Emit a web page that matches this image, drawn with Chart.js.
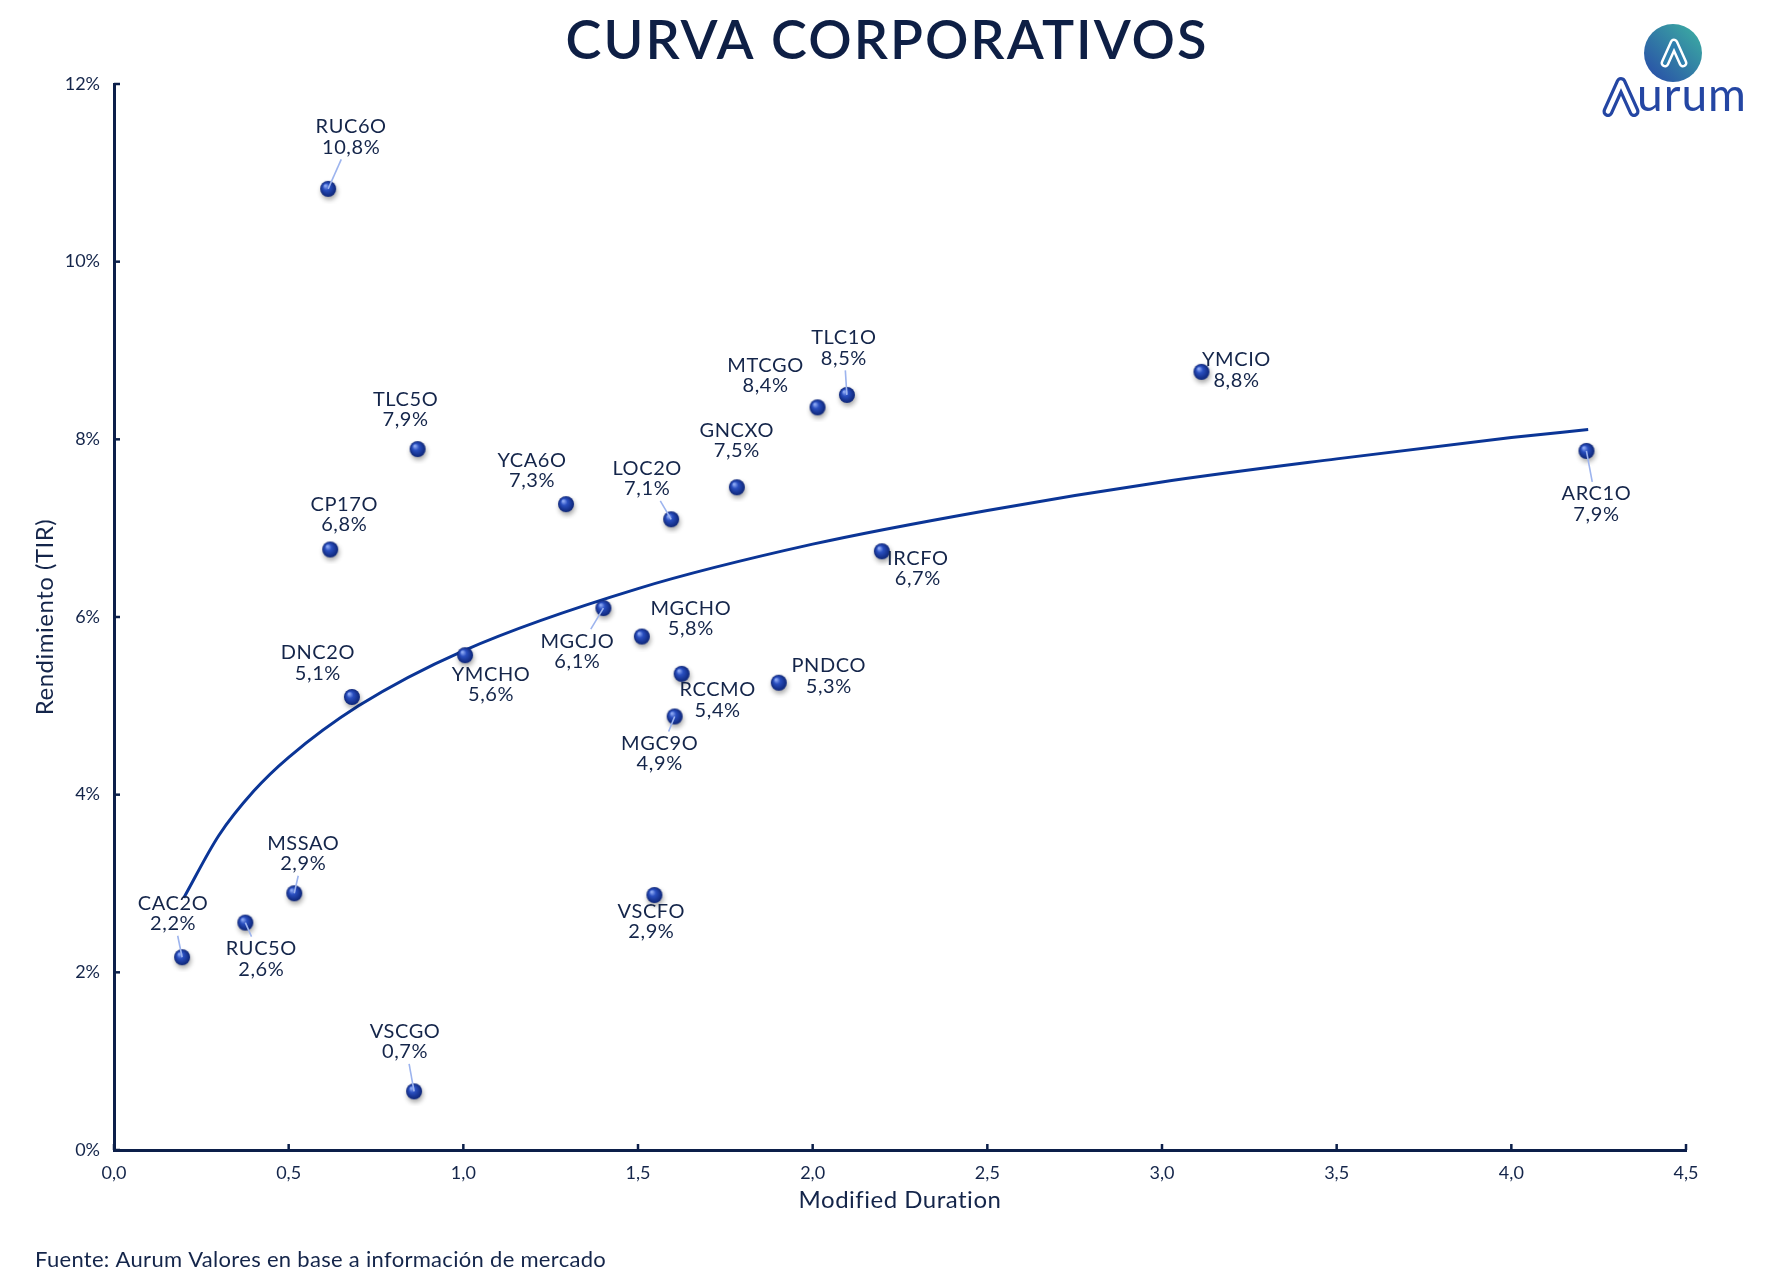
<!DOCTYPE html>
<html lang="es">
<head>
<meta charset="utf-8">
<title>Curva Corporativos</title>
<script src="https://cdn.jsdelivr.net/npm/chart.js@4.4.1/dist/chart.umd.min.js"></script>
<style>
  html, body { margin: 0; padding: 0; background: #ffffff; }
  #wrap { position: relative; width: 1775px; height: 1287px; }
</style>
</head>
<body>
<div id="wrap"><canvas id="curvaChart" width="1775" height="1287"></canvas></div>
<script>
// Datos de la curva
const tickers = ['RUC6O', 'TLC5O', 'CP17O', 'DNC2O', 'YMCHO', 'YCA6O', 'MGCJO', 'MGCHO',
                 'LOC2O', 'RCCMO', 'MGC9O', 'VSCFO', 'GNCXO', 'PNDCO', 'MTCGO', 'TLC1O',
                 'IRCFO', 'YMCIO', 'ARC1O', 'CAC2O', 'RUC5O', 'MSSAO', 'VSCGO'];
const duration = [0.613, 0.869, 0.619, 0.681, 1.005, 1.294, 1.401, 1.511,
                  1.595, 1.625, 1.605, 1.547, 1.783, 1.903, 2.014, 2.098,
                  2.198, 3.113, 4.215, 0.195, 0.376, 0.516, 0.859];
const tir = [10.82, 7.89, 6.76, 5.10, 5.57, 7.27, 6.10, 5.78,
             7.10, 5.36, 4.88, 2.87, 7.46, 5.26, 8.36, 8.50,
             6.74, 8.76, 7.87, 2.17, 2.56, 2.89, 0.66];

// Línea de tendencia
const trendX = [0.2, 0.3, 0.4, 0.5, 0.7, 1.0, 1.5, 2.0, 2.5, 3.0, 3.5, 4.0, 4.22];
const trendY = [2.84, 3.54, 4.04, 4.42, 5.00, 5.62, 6.32, 6.82, 7.20, 7.52, 7.78, 8.02, 8.11];

// Etiquetas de los ejes
const xTickLabels = ['0,0', '0,5', '1,0', '1,5', '2,0', '2,5', '3,0', '3,5', '4,0', '4,5'];
const yTickLabels = ['0%', '2%', '4%', '6%', '8%', '10%', '12%'];

const NAVY = '#14254a';
const AXIS = '#0c1f4a';
const FONT = 'Lato, "Noto Sans", sans-serif';

// Posición de cada etiqueta respecto de su punto: [dx, dy, con línea guía]
const labelLayout = [
  [23, -62, true], [-12, -50, false], [14, -45, false], [-34, -44, false],
  [26, 19, false], [-34, -44, false], [-26, 33, true], [49, -28, false],
  [-24, -51, true], [36, 16, false], [-15, 27, true], [-3, 16, false],
  [0, -57, false], [50, -17, false], [-52, -42, false], [-3, -57, true],
  [36, 7, false], [35, -12, false], [10, 43, true], [-9, -54, true],
  [16, 26, true], [9, -50, true], [-9, -60, true]
];

// Esfera con brillo para cada punto
function makeSphere(r) {
  const pad = 7;
  const size = (r + pad) * 2;
  const c = document.createElement('canvas');
  c.width = size; c.height = size;
  const g = c.getContext('2d');
  const cx = size / 2, cy = size / 2;
  g.shadowColor = 'rgba(0,0,0,0.35)';
  g.shadowBlur = 5;
  g.shadowOffsetX = 1;
  g.shadowOffsetY = 3;
  const grad = g.createRadialGradient(cx - r * 0.35, cy - r * 0.4, r * 0.1, cx, cy, r);
  grad.addColorStop(0, '#8aa6f2');
  grad.addColorStop(0.35, '#2a4fc0');
  grad.addColorStop(1, '#0d2577');
  g.fillStyle = grad;
  g.beginPath();
  g.arc(cx, cy, r, 0, Math.PI * 2);
  g.fill();
  return c;
}

function fmtPct(v) {
  return v.toFixed(1).replace('.', ',') + '%';
}

// Plugin: etiquetas, marcas internas de los ejes, títulos, fuente y logo
const decorPlugin = {
  id: 'decor',
  afterDatasetsDraw(chart) {
    const ctx = chart.ctx;
    const meta = chart.getDatasetMeta(0);
    ctx.save();
    ctx.font = '20px ' + FONT;
    ctx.letterSpacing = '0.6px';
    ctx.textAlign = 'center';
    ctx.textBaseline = 'middle';
    const gap = 20.5;
    meta.data.forEach((pt, i) => {
      const [dx, dy, leader] = labelLayout[i];
      const name = tickers[i];
      const val = fmtPct(tir[i]);
      const cx = pt.x + dx;
      const cy = pt.y + dy + gap / 2;
      if (leader) {
        const w = Math.max(ctx.measureText(name).width, ctx.measureText(val).width);
        const hw = w / 2 + 3, hh = gap / 2 + 12;
        const vx = pt.x - cx, vy = pt.y - cy;
        const s = Math.min(vx !== 0 ? hw / Math.abs(vx) : Infinity, vy !== 0 ? hh / Math.abs(vy) : Infinity);
        if (s < 1) {
          ctx.strokeStyle = '#9db4ee';
          ctx.lineWidth = 1.6;
          ctx.beginPath();
          ctx.moveTo(pt.x, pt.y);
          ctx.lineTo(cx + vx * s, cy + vy * s);
          ctx.stroke();
        }
      }
      ctx.fillStyle = NAVY;
      ctx.fillText(name, pt.x + dx, pt.y + dy);
      ctx.fillText(val, pt.x + dx, pt.y + dy + gap);
    });
    ctx.restore();
  },
  afterDraw(chart) {
    const ctx = chart.ctx;
    const area = chart.chartArea;
    const xs = chart.scales.x, ys = chart.scales.y;
    ctx.save();

    // marcas internas
    ctx.strokeStyle = AXIS;
    ctx.lineWidth = 2.5;
    ys.ticks.forEach(t => {
      const py = ys.getPixelForValue(t.value);
      ctx.beginPath(); ctx.moveTo(area.left, py); ctx.lineTo(area.left + 6, py); ctx.stroke();
    });
    xs.ticks.forEach(t => {
      const px = xs.getPixelForValue(t.value);
      ctx.beginPath(); ctx.moveTo(px, area.bottom); ctx.lineTo(px, area.bottom - 6); ctx.stroke();
    });

    // título
    ctx.fillStyle = '#0e1f45';
    ctx.textAlign = 'center';
    ctx.textBaseline = 'middle';
    ctx.font = '600 54px ' + FONT;
    ctx.letterSpacing = '2px';
    ctx.fillText('CURVA CORPORATIVOS', 887, 42);

    // títulos de ejes
    ctx.fillStyle = NAVY;
    ctx.font = '24px ' + FONT;
    ctx.letterSpacing = '0.5px';
    ctx.fillText('Modified Duration', (area.left + area.right) / 2, 1200);
    ctx.save();
    ctx.translate(45, (area.top + area.bottom) / 2);
    ctx.rotate(-Math.PI / 2);
    ctx.fillText('Rendimiento (TIR)', 0, 0);
    ctx.restore();

    // fuente
    ctx.textAlign = 'left';
    ctx.font = '22px ' + FONT;
    ctx.letterSpacing = '0.3px';
    ctx.fillText('Fuente: Aurum Valores en base a información de mercado', 35, 1260);
    ctx.letterSpacing = '0px';

    // logo
    const lx = 1673, ly = 53, lr = 29;
    const lg = ctx.createLinearGradient(lx - lr, ly + lr, lx + lr, ly - lr);
    lg.addColorStop(0, '#2747a8');
    lg.addColorStop(1, '#3db3a2');
    ctx.fillStyle = lg;
    ctx.beginPath(); ctx.arc(lx, ly, lr, 0, Math.PI * 2); ctx.fill();
    ctx.lineJoin = 'round'; ctx.lineCap = 'round';
    const caret = (ox, oy, k) => {
      ctx.beginPath();
      ctx.moveTo(ox - 9 * k, oy + 10 * k);
      ctx.lineTo(ox, oy - 10 * k);
      ctx.lineTo(ox + 9 * k, oy + 10 * k);
    };
    caret(lx + 1, ly, 1);
    ctx.strokeStyle = '#ffffff'; ctx.lineWidth = 9; ctx.stroke();
    caret(lx + 1, ly, 1);
    ctx.strokeStyle = '#2f7fae'; ctx.lineWidth = 4; ctx.stroke();

    caret(1621, 97, 1.45);
    ctx.strokeStyle = '#2446a3'; ctx.lineWidth = 11; ctx.stroke();
    caret(1621, 97, 1.45);
    ctx.strokeStyle = '#ffffff'; ctx.lineWidth = 4.5; ctx.stroke();
    ctx.fillStyle = '#2446a3';
    ctx.font = '46px ' + FONT;
    ctx.letterSpacing = '1px';
    ctx.textAlign = 'left';
    ctx.textBaseline = 'alphabetic';
    ctx.fillText('urum', 1637, 111);

    ctx.restore();
  }
};

const sphere = makeSphere(8);

new Chart(document.getElementById('curvaChart'), {
  type: 'scatter',
  data: {
    datasets: [
      {
        label: 'Bonos',
        data: duration.map((d, i) => ({ x: d, y: tir[i] })),
        pointStyle: sphere,
        pointRadius: 8,
        order: 0
      },
      {
        type: 'line',
        label: 'Tendencia',
        data: trendX.map((d, i) => ({ x: d, y: trendY[i] })),
        borderColor: '#0b3596',
        borderWidth: 3,
        pointRadius: 0,
        fill: false,
        tension: 0.4,
        cubicInterpolationMode: 'monotone',
        order: 1
      }
    ]
  },
  options: {
    responsive: false,
    animation: false,
    devicePixelRatio: 1,
    layout: { padding: { top: 84, right: 89, left: 0, bottom: 77 } },
    plugins: {
      legend: { display: false },
      tooltip: { enabled: false },
      title: { display: false }
    },
    scales: {
      x: {
        type: 'linear',
        min: 0,
        max: 4.5,
        afterFit: s => { s.height = 60; },
        grid: { display: false, drawTicks: false },
        border: { display: true, color: AXIS, width: 3 },
        ticks: {
          stepSize: 0.5,
          padding: 12,
          color: NAVY,
          font: { family: FONT, size: 18 },
          callback: (v, i) => xTickLabels[i]
        }
      },
      y: {
        min: 0,
        max: 12,
        afterFit: s => { s.width = 114; },
        grid: { display: false, drawTicks: false },
        border: { display: true, color: AXIS, width: 3 },
        ticks: {
          stepSize: 2,
          padding: 14,
          color: NAVY,
          font: { family: FONT, size: 18 },
          callback: (v, i) => yTickLabels[i]
        }
      }
    }
  },
  plugins: [decorPlugin]
});
</script>
</body>
</html>
